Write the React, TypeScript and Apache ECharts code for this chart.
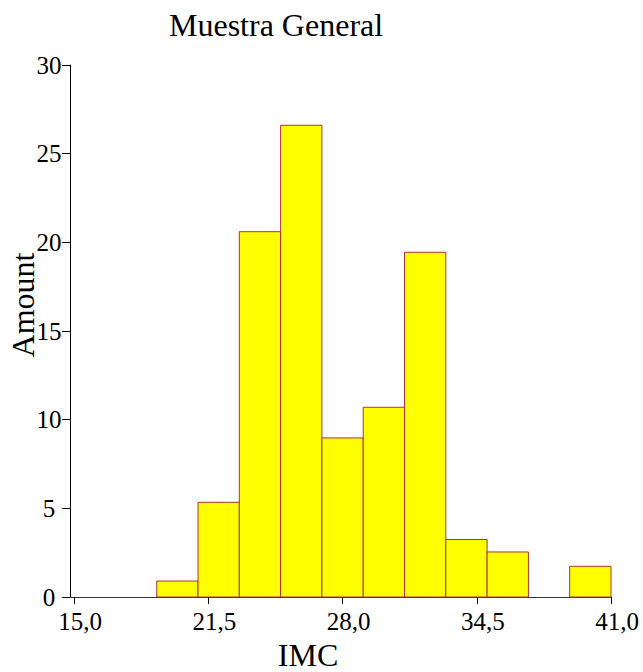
import React, { useEffect, useRef } from "react";
import * as echarts from "echarts";

const binStarts = [19, 21, 23, 25, 27, 29, 31, 33, 35, 37, 39];
const binWidth = 2;
const amounts = [0.9, 5.34, 20.6, 26.6, 8.97, 10.7, 19.44, 3.24, 2.54, 0, 1.73];
const xTicks = [15, 21.5, 28, 34.5, 41];
const yTicks = [0, 5, 10, 15, 20, 25, 30];

const FONT = "'Liberation Serif', 'Times New Roman', serif";

export default function App() {
  const ref = useRef<HTMLDivElement>(null);
  useEffect(() => {
    if (!ref.current) return;
    const chart = echarts.init(ref.current, undefined, { renderer: "svg" });
    const data = binStarts.map((s, i) => [s, s + binWidth, amounts[i]]);
    chart.setOption({
      animation: false,
      backgroundColor: "#ffffff",
      title: {
        text: "Muestra General",
        left: 164,
        top: 4,
        textStyle: { fontFamily: FONT, fontSize: 32, fontWeight: "normal", color: "#000" },
      },
      grid: { left: 70, right: 32, top: 65, bottom: 75 },
      xAxis: {
        type: "value",
        min: 14.8,
        max: 41,
        splitLine: { show: false },
        axisLine: { show: true, lineStyle: { color: "#333", width: 1 } },
        axisTick: { show: true, customValues: xTicks, length: 7, lineStyle: { color: "#000" } },
        axisLabel: {
          customValues: xTicks,
          formatter: (v: number) => v.toFixed(1).replace(".", ","),
          fontFamily: FONT,
          fontSize: 25,
          color: "#000",
          margin: 12,
          padding: [0, 0, 0, 12],
        },
      },
      yAxis: {
        type: "value",
        min: 0,
        max: 30,
        interval: 5,
        splitLine: { show: false },
        axisLine: { show: true, lineStyle: { color: "#000", width: 1 } },
        axisTick: { show: true, length: 8, lineStyle: { color: "#000" } },
        axisLabel: {
          customValues: yTicks,
          fontFamily: FONT,
          fontSize: 25,
          color: "#000",
          margin: 21,
          align: "center",
          verticalAlign: "middle",
          padding: [14, 0, 0, 0],
        },
      },
      graphic: [
        {
          type: "text",
          x: 23,
          y: 305,
          rotation: Math.PI / 2,
          style: {
            text: "Amount",
            fontFamily: FONT,
            fontSize: 32,
            fill: "#000",
            textAlign: "center",
            textVerticalAlign: "middle",
          },
        },
        {
          type: "text",
          x: 308,
          y: 655,
          style: {
            text: "IMC",
            fontFamily: FONT,
            fontSize: 32,
            fill: "#000",
            textAlign: "center",
            textVerticalAlign: "middle",
          },
        },
      ],
      series: [
        {
          type: "custom",
          data,
          encode: { x: [0, 1], y: 2 },
          renderItem: (params: any, api: any) => {
            const v = api.value(2);
            if (!v) return null;
            const p0 = api.coord([api.value(0), v]);
            const p1 = api.coord([api.value(1), 0]);
            return {
              type: "rect",
              shape: { x: p0[0], y: p0[1], width: p1[0] - p0[0], height: p1[1] - p0[1] },
              style: { fill: "#FFFF00", stroke: "#B0303C", lineWidth: 1 },
            };
          },
        },
      ],
    });
    return () => chart.dispose();
  }, []);
  return (
    <div
      ref={ref}
      style={{ position: "absolute", left: 0, top: 0, width: 643, height: 672 }}
    />
  );
}
